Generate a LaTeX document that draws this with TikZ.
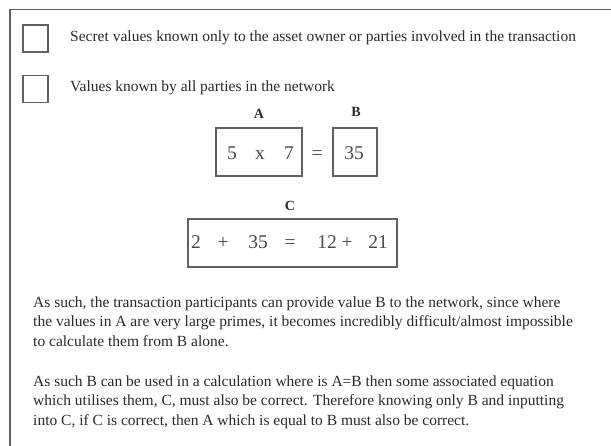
\documentclass[tikz,border=0pt]{standalone}
\usepackage{fontspec}
\setmainfont{Liberation Serif}
\begin{document}
\begin{tikzpicture}[x=1pt,y=-1pt]
\definecolor{txt}{HTML}{2A2A2A}
\definecolor{frm}{HTML}{606060}
\tikzset{
  legbox/.style={draw=frm, line width=1.4pt, minimum width=25pt, minimum height=27pt, inner sep=0pt},
  valbox/.style={draw=frm, line width=1.3pt},
  para/.style={anchor=base west, inner sep=0pt, text=txt, font=\fontsize{15.5}{19}\selectfont},
  lab/.style={anchor=base, inner sep=0pt, text=txt, font=\fontsize{14}{15}\selectfont\bfseries},
  num/.style={anchor=base, inner sep=0pt, text=txt!85!white, font=\fontsize{19.5}{22}\selectfont},
}
\useasboundingbox (0,0) rectangle (611,446);
\fill[white] (0,0) rectangle (611,446);
% frame
\draw[frm, line width=1.8pt] (10,446) -- (10,9.5) -- (611,9.5);
% legend
\node[legbox] (k1) at (35.5,38.5) {};
\node[legbox] (k2) at (35.5,89) {};
\node[para, anchor=west] (t1) at (70,38) {Secret values known only to the asset owner or parties involved in the transaction};
\node[para, anchor=west] (t2) at (70,88) {Values known by all parties in the network};
% labels
\node[lab] (la) at (259,119) {A};
\node[lab] (lb) at (356,117) {B};
\node[lab] (lc) at (290,211) {C};
% boxes
\draw[valbox] (216,128) rectangle (302,176);
\node[num] (a5) at (232,160) {5};
\node[num] (ax) at (260,160) {x};
\node[num] (a7) at (289,160) {7};
\node[num] (eq1) at (317,160) {=};
\draw[valbox] (333,128) rectangle (377,176);
\node[num] (b35) at (354,160) {35};
\draw[valbox] (188,219) rectangle (397,267);
\node[num] (c2) at (196,249) {2};
\node[num] (cp1) at (223,249) {+};
\node[num] (c35) at (258,249) {35};
\node[num] (ceq) at (290,249) {=};
\node[num] (c12) at (327,249) {12};
\node[num] (cp2) at (347,249) {+};
\node[num] (c21) at (378,249) {21};
% paragraphs
\node[para] (p1) at (33,307.5) {As such, the transaction participants can provide value B to the network, since where};
\node[para] (p2) at (33,327) {the values in A are very large primes, it becomes incredibly difficult/almost impossible};
\node[para] (p3) at (33,346.5) {to calculate them from B alone.};
\node[para] (q1) at (33,386.5) {As such B can be used in a calculation where is A=B then some associated equation};
\node[para] (q2) at (33,406) {which utilises them, C, must also be correct. Therefore knowing only B and inputting};
\node[para] (q3) at (33,425.5) {into C, if C is correct, then A which is equal to B must also be correct.};
\end{tikzpicture}
\end{document}
